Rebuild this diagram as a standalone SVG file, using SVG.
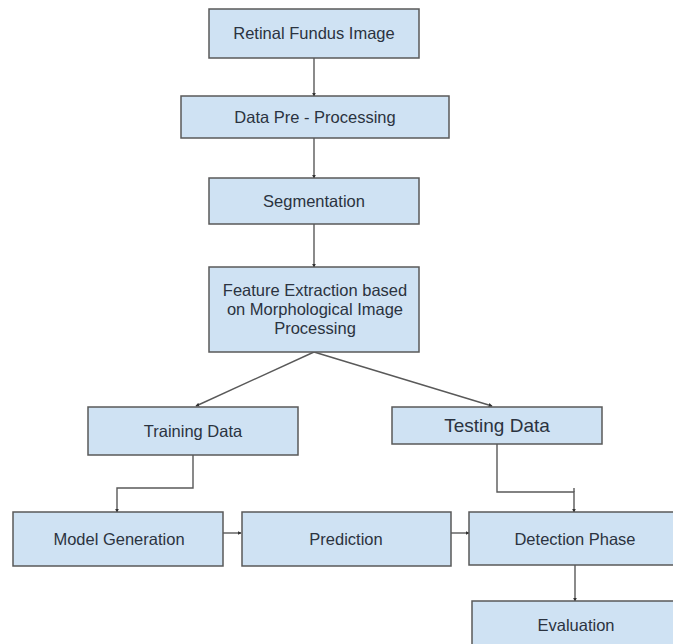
<svg xmlns="http://www.w3.org/2000/svg" width="673" height="644" viewBox="0 0 673 644">
<style>
.box{fill:#cfe2f3;stroke:#595959;stroke-width:1.5}
.t{font-family:"Liberation Sans",Arial,sans-serif;font-size:16.5px;fill:#2b3340;text-anchor:middle}
.c{fill:none;stroke:#595959;stroke-width:1.4}
</style>
<defs>
<marker id="ah" viewBox="0 0 6 6" refX="5" refY="3" markerWidth="4" markerHeight="4" orient="auto" markerUnits="userSpaceOnUse">
<path d="M0,0 L6,3 L0,6 z" fill="#333"/>
</marker>
</defs>
<rect width="673" height="644" fill="#fff"/>
<g id="connectors">
<line class="c" x1="314" y1="58" x2="314" y2="96" marker-end="url(#ah)"/>
<line class="c" x1="314" y1="138" x2="314" y2="178" marker-end="url(#ah)"/>
<line class="c" x1="314" y1="224" x2="314" y2="267" marker-end="url(#ah)"/>
<line class="c" x1="314" y1="352" x2="196" y2="406" marker-end="url(#ah)"/>
<line class="c" x1="314" y1="352" x2="492" y2="406" marker-end="url(#ah)"/>
<polyline class="c" points="193,455 193,488 117,488 117,512" marker-end="url(#ah)"/>
<polyline class="c" points="497,444 497,492 574,492 574,512" marker-end="url(#ah)"/>
<line class="c" x1="574" y1="488" x2="574" y2="492"/>
<line class="c" x1="223" y1="533" x2="241" y2="533" marker-end="url(#ah)"/>
<line class="c" x1="451" y1="533" x2="469" y2="533" marker-end="url(#ah)"/>
<line class="c" x1="575" y1="565" x2="575" y2="601" marker-end="url(#ah)"/>
</g>
<g id="n1"><rect class="box" x="209" y="9" width="210" height="49"/><text class="t" x="314" y="39">Retinal Fundus Image</text></g>
<g id="n2"><rect class="box" x="181" y="96" width="268" height="42"/><text class="t" x="315" y="123">Data Pre - Processing</text></g>
<g id="n3"><rect class="box" x="209" y="178" width="210" height="46"/><text class="t" x="314" y="207">Segmentation</text></g>
<g id="n4"><rect class="box" x="209" y="267" width="210" height="85"/>
<text class="t" x="315" y="296">Feature Extraction based</text>
<text class="t" x="315" y="315">on Morphological Image</text>
<text class="t" x="315" y="334">Processing</text></g>
<g id="n5"><rect class="box" x="88" y="407" width="210" height="48"/><text class="t" x="193" y="437">Training Data</text></g>
<g id="n6"><rect class="box" x="392" y="407" width="210" height="37"/><text class="t" x="497" y="432" style="font-size:19px">Testing Data</text></g>
<g id="n7"><rect class="box" x="13" y="512" width="210" height="54"/><text class="t" x="119" y="545">Model Generation</text></g>
<g id="n8"><rect class="box" x="242" y="512" width="209" height="54"/><text class="t" x="346" y="545">Prediction</text></g>
<g id="n9"><rect class="box" x="469" y="512" width="212" height="53"/><text class="t" x="575" y="545">Detection Phase</text></g>
<g id="n10"><rect class="box" x="472" y="601" width="210" height="50"/><text class="t" x="576" y="631">Evaluation</text></g>
</svg>
